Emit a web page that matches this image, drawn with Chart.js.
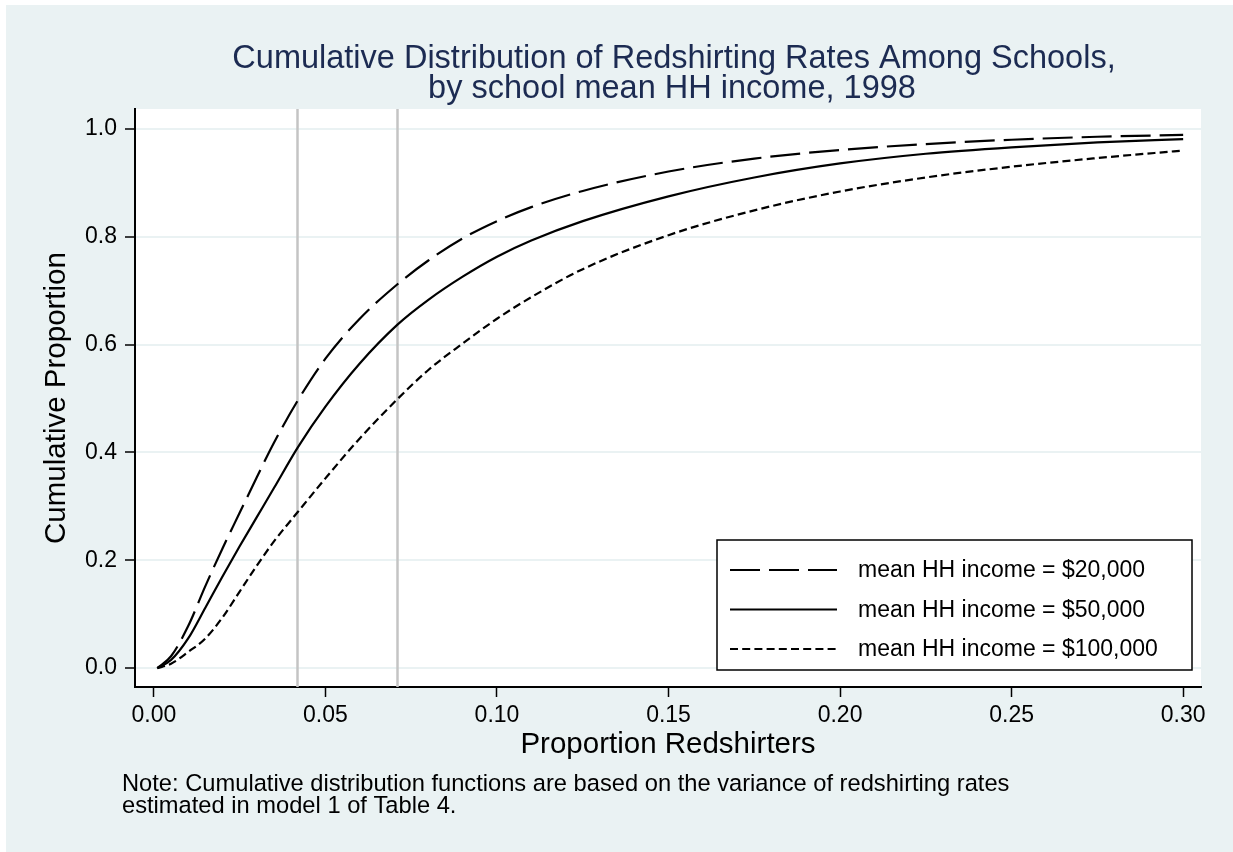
<!DOCTYPE html>
<html>
<head>
<meta charset="utf-8">
<title>Cumulative Distribution of Redshirting Rates</title>
<script src="https://cdn.jsdelivr.net/npm/chart.js@4.4.1/dist/chart.umd.min.js"></script>
<style>
  html, body { margin: 0; padding: 0; background: #eaf2f3; }
  #wrap { width: 1233px; height: 852px; }
</style>
</head>
<body>
<div id="wrap"><canvas id="chart" width="1233" height="852"></canvas></div>
<script>
const xValues = [0.001, 0.005, 0.01, 0.015, 0.02, 0.025, 0.03, 0.035, 0.042, 0.05, 0.06, 0.071,
  0.08, 0.09, 0.10, 0.11, 0.125, 0.15, 0.175, 0.20, 0.225, 0.25, 0.275, 0.30];

// Cumulative proportion for each school income group
const inc20k = [0, 0.022, 0.078, 0.152, 0.222, 0.288, 0.354, 0.418, 0.497, 0.574, 0.648, 0.712,
  0.756, 0.797, 0.829, 0.855, 0.885, 0.921, 0.945, 0.961, 0.972, 0.980, 0.9855, 0.989];
const inc50k = [0, 0.015, 0.055, 0.112, 0.170, 0.226, 0.280, 0.334, 0.410, 0.485, 0.565, 0.637,
  0.683, 0.726, 0.763, 0.793, 0.829, 0.875, 0.910, 0.936, 0.954, 0.966, 0.975, 0.981];
const inc100k = [0, 0.008, 0.030, 0.055, 0.094, 0.142, 0.190, 0.235, 0.290, 0.352, 0.426, 0.499,
  0.553, 0.602, 0.648, 0.688, 0.740, 0.803, 0.849, 0.884, 0.910, 0.930, 0.946, 0.960];

const seriesLabels = ['mean HH income = $20,000', 'mean HH income = $50,000', 'mean HH income = $100,000'];

// Vertical reference lines
const refLines = [0.0417, 0.0708];

// Tick labels
const xTicks = [0, 0.05, 0.10, 0.15, 0.20, 0.25, 0.30];
const yTicks = [0, 0.2, 0.4, 0.6, 0.8, 1.0];

const titleLines = ['Cumulative Distribution of Redshirting Rates Among Schools,', 'by school mean HH income, 1998'];
const noteLines = ['Note: Cumulative distribution functions are based on the variance of redshirting rates',
  'estimated in model 1 of Table 4.'];

const FONT = '"Liberation Sans", Arial, Helvetica, sans-serif';
const BG = '#eaf2f3';

Chart.defaults.font.family = FONT;
Chart.defaults.color = '#000000';

// Turn the y array into {x, y} points
function toPoints(ys) {
  return xValues.map((x, i) => ({ x: x, y: ys[i] }));
}

// Background, white plot region
const backgroundPlugin = {
  id: 'background',
  beforeDraw(chart) {
    const ctx = chart.ctx;
    const a = chart.chartArea;
    ctx.save();
    ctx.fillStyle = '#ffffff';
    ctx.fillRect(0, 0, chart.width, chart.height);
    ctx.fillStyle = BG;
    ctx.fillRect(6, 5, chart.width - 6, chart.height - 5);
    ctx.fillStyle = '#ffffff';
    ctx.fillRect(a.left, a.top, a.right - a.left, a.bottom - a.top);
    ctx.restore();
  }
};

// Gray vertical lines at the reference values
const refLinePlugin = {
  id: 'refLines',
  beforeDatasetsDraw(chart) {
    const ctx = chart.ctx;
    const a = chart.chartArea;
    const xs = chart.scales.x;
    ctx.save();
    ctx.strokeStyle = '#c4c4c4';
    ctx.lineWidth = 2.5;
    refLines.forEach(v => {
      const px = Math.round(xs.getPixelForValue(v)) + 0.5;
      ctx.beginPath();
      ctx.moveTo(px, a.top);
      ctx.lineTo(px, a.bottom);
      ctx.stroke();
    });
    ctx.restore();
  }
};

// Boxed legend in the lower right of the plot
const boxLegendPlugin = {
  id: 'boxLegend',
  afterDatasetsDraw(chart) {
    const ctx = chart.ctx;
    const a = chart.chartArea;
    const w = 475, h = 130;
    const left = a.right - 9 - w;
    const top = a.bottom - 17 - h;
    ctx.save();
    ctx.fillStyle = '#ffffff';
    ctx.fillRect(left, top, w, h);
    ctx.strokeStyle = '#000000';
    ctx.lineWidth = 1.5;
    ctx.strokeRect(left, top, w, h);
    ctx.font = '23px ' + FONT;
    ctx.textBaseline = 'middle';
    ctx.textAlign = 'left';
    chart.data.datasets.forEach((ds, i) => {
      const y = top + 30 + i * 39.5;
      ctx.beginPath();
      ctx.setLineDash(ds.borderDash || []);
      ctx.lineWidth = ds.borderWidth;
      ctx.strokeStyle = ds.borderColor;
      ctx.moveTo(left + 13, y);
      ctx.lineTo(left + 120, y);
      ctx.stroke();
      ctx.setLineDash([]);
      ctx.fillStyle = '#000000';
      ctx.fillText(ds.label, left + 141, y + 1);
    });
    ctx.restore();
  }
};

// Title and note text
const textPlugin = {
  id: 'texts',
  afterDraw(chart) {
    const ctx = chart.ctx;
    ctx.save();
    ctx.textBaseline = 'alphabetic';
    ctx.textAlign = 'center';
    ctx.fillStyle = '#1c2b52';
    ctx.font = '32.5px ' + FONT;
    ctx.fillText(titleLines[0], 674, 68);
    ctx.fillText(titleLines[1], 672, 98);
    ctx.textAlign = 'left';
    ctx.fillStyle = '#000000';
    ctx.font = '23.7px ' + FONT;
    ctx.fillText(noteLines[0], 122, 791);
    ctx.fillText(noteLines[1], 122, 813);
    ctx.restore();
  }
};

const chart = new Chart(document.getElementById('chart'), {
  type: 'line',
  data: {
    datasets: [
      {
        label: seriesLabels[0],
        data: toPoints(inc20k),
        borderColor: '#000000',
        borderWidth: 2.2,
        borderDash: [30, 9]
      },
      {
        label: seriesLabels[1],
        data: toPoints(inc50k),
        borderColor: '#000000',
        borderWidth: 2.2,
        borderDash: []
      },
      {
        label: seriesLabels[2],
        data: toPoints(inc100k),
        borderColor: '#000000',
        borderWidth: 2.2,
        borderDash: [8, 4.2]
      }
    ]
  },
  options: {
    responsive: false,
    animation: false,
    devicePixelRatio: 1,
    cubicInterpolationMode: 'monotone',
    elements: {
      point: { radius: 0 },
      line: { fill: false }
    },
    layout: {
      padding: { top: 109, left: 0, right: 32, bottom: 85 }
    },
    plugins: {
      legend: { display: false },
      title: { display: false },
      tooltip: { enabled: false }
    },
    scales: {
      x: {
        type: 'linear',
        min: -0.0055,
        max: 0.3052,
        afterBuildTicks: scale => { scale.ticks = xTicks.map(v => ({ value: v })); },
        afterFit: scale => { scale.height = 80; },
        ticks: {
          font: { size: 23 },
          color: '#000000',
          padding: 5,
          maxRotation: 0,
          callback: v => Number(v).toFixed(2)
        },
        grid: {
          drawOnChartArea: false,
          tickLength: 10,
          tickColor: '#000000',
          tickWidth: 1.5
        },
        border: { display: true, color: '#000000', width: 2 },
        title: {
          display: true,
          text: 'Proportion Redshirters',
          font: { size: 29.5 },
          color: '#000000',
          padding: { top: 0, bottom: 4 }
        }
      },
      y: {
        type: 'linear',
        min: -0.035,
        max: 1.037,
        afterBuildTicks: scale => { scale.ticks = yTicks.map(v => ({ value: v })); },
        afterFit: scale => { scale.width = 135; },
        ticks: {
          font: { size: 23 },
          color: '#000000',
          padding: 8,
          callback: v => Number(v).toFixed(1)
        },
        grid: {
          color: BG,
          lineWidth: 2,
          tickLength: 10,
          tickColor: '#000000',
          tickWidth: 1.5
        },
        border: { display: true, color: '#000000', width: 2 },
        title: {
          display: true,
          text: 'Cumulative Proportion',
          font: { size: 29.5 },
          color: '#000000',
          padding: { top: 39, bottom: 0 }
        }
      }
    }
  },
  plugins: [backgroundPlugin, refLinePlugin, boxLegendPlugin, textPlugin]
});
</script>
</body>
</html>
